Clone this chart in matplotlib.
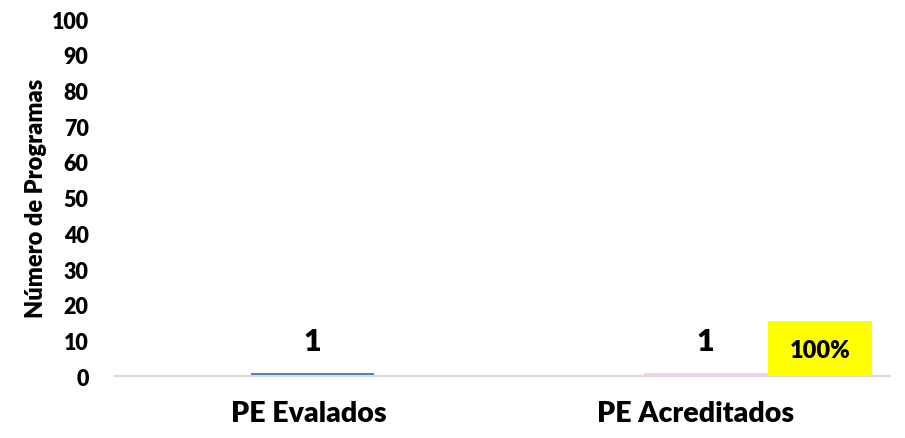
import matplotlib
matplotlib.use("Agg")
import matplotlib.pyplot as plt
from matplotlib.patches import Rectangle
import numpy as np

CATEGORIAS = ["PE Evalados", "PE Acreditados"]
VALORES = [1, 1]
PORCENTAJE = "100%"
COLORES = ["#4f81bd", "#f9ccf3"]

plt.rcParams["font.family"] = ["Lato", "DejaVu Sans"]
PESO = "heavy"

fig = plt.figure(figsize=(9.05, 4.39), dpi=100)
ax = fig.add_axes([0.127, 0.141, 0.856, 0.813])

x = np.arange(len(CATEGORIAS)) + np.array([0.01, 0.025])
ancho = 0.32
barras = ax.bar(x, VALORES, ancho, color=COLORES, zorder=2)

for b, v in zip(barras, VALORES):
    ax.text(b.get_x() + b.get_width() / 2, v + 8.8, str(v), ha="center",
            va="center", fontsize=22, fontweight=PESO)

# recuadro amarillo con el porcentaje, pegado a la barra de acreditados
b = barras[1]
x0 = b.get_x() + b.get_width()
ax.add_patch(Rectangle((x0, 0), 0.27, 15.4, facecolor="#ffff00",
                       edgecolor="none", zorder=3))
ax.text(x0 + 0.135, 7.3, PORCENTAJE, ha="center", va="center",
        fontsize=17, fontweight=PESO, zorder=4)

ax.set_xlim(-0.5, 1.5)
ax.set_ylim(0, 100)
ax.set_yticks(np.arange(0, 101, 10))
ax.set_xticks(np.arange(len(CATEGORIAS)))
ax.set_xticklabels(CATEGORIAS, fontsize=20.5, fontweight=PESO)
ax.tick_params(axis="y", length=0, labelsize=15.5, pad=19)
ax.tick_params(axis="x", length=0, pad=17)
for lab in ax.get_yticklabels():
    lab.set_fontweight(PESO)
ax.set_ylabel("Número de Programas", fontsize=17, fontweight=PESO, labelpad=3)

for s in ("top", "right", "left"):
    ax.spines[s].set_visible(False)
ax.spines["bottom"].set_color("#d9d9d9")
ax.spines["bottom"].set_linewidth(1.5)

fig.savefig("out.png", dpi=100, facecolor="white")
